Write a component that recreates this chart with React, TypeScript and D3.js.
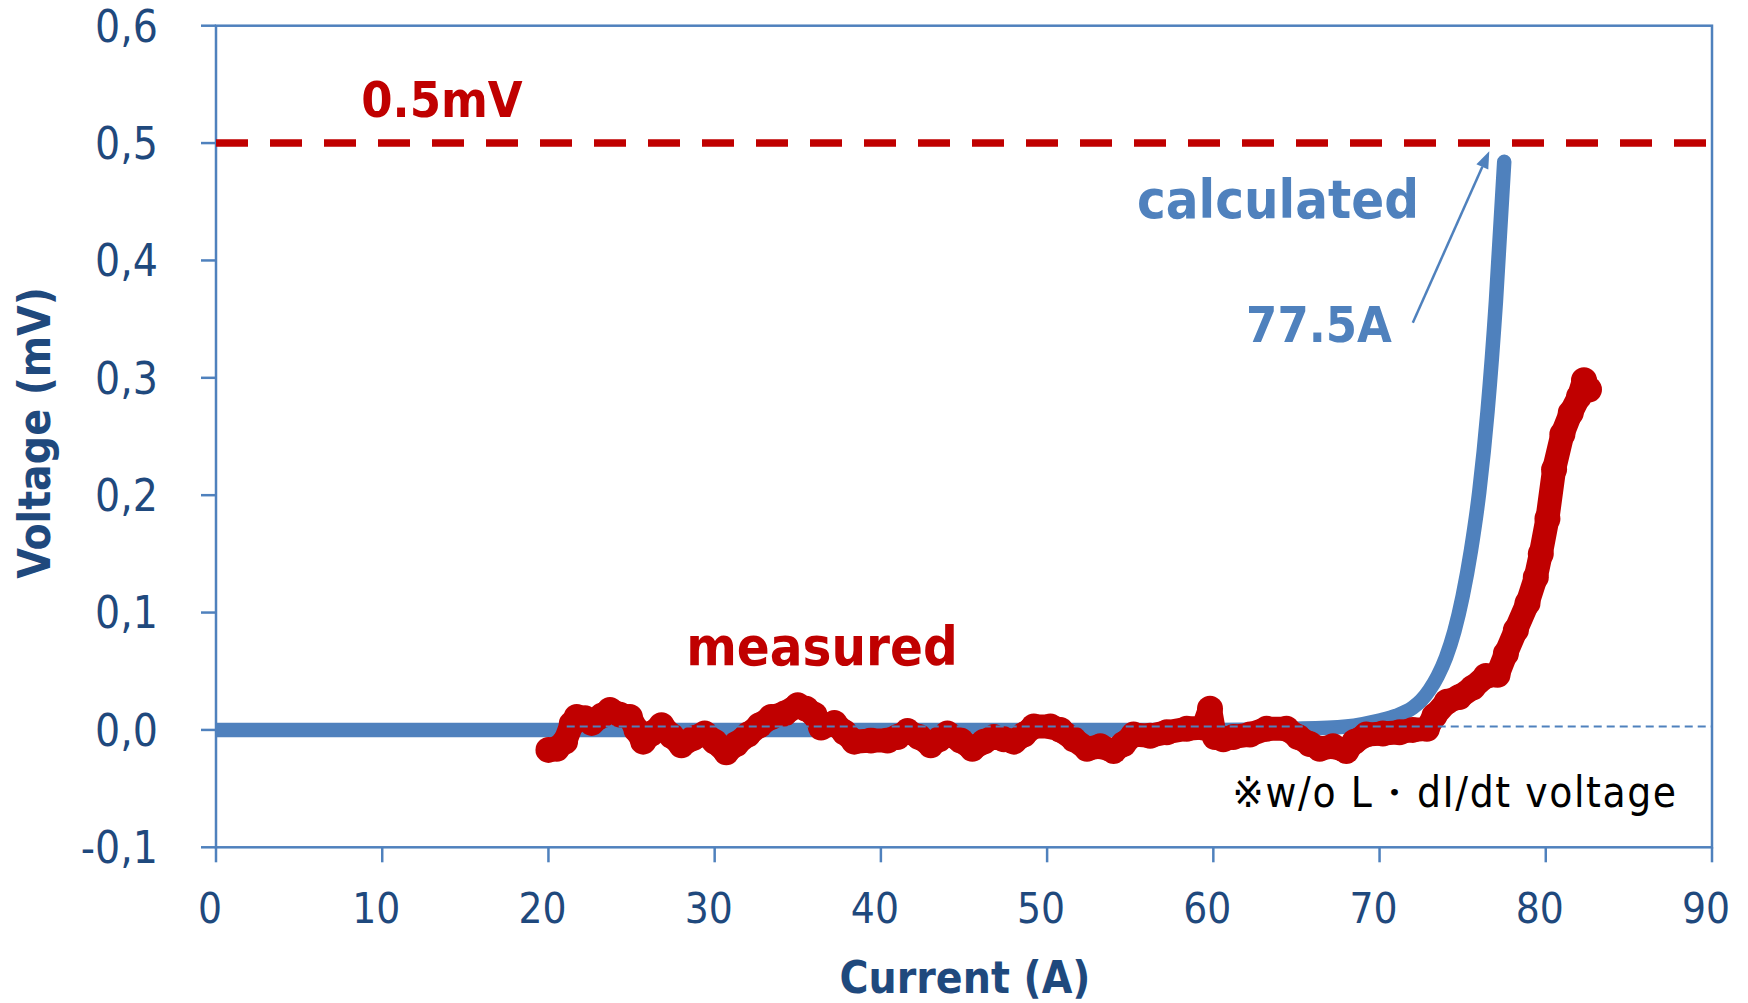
import React from "react";
import * as d3 from "d3";

// Axis ticks
const xTicks = [0, 10, 20, 30, 40, 50, 60, 70, 80, 90];
const yTicks = [-0.1, 0, 0.1, 0.2, 0.3, 0.4, 0.5, 0.6];
const yTickLabels = ["-0,1", "0,0", "0,1", "0,2", "0,3", "0,4", "0,5", "0,6"];

// Calculated V-I curve (A, mV)
const calcCurrent = [0, 10, 20, 30, 40, 50, 60, 65, 68, 69, 70, 71, 72, 72.5, 73, 73.5, 74, 74.5, 75, 75.5, 76, 76.5, 77, 77.5];
const calcVoltage = [0, 0, 0, 0, 0, 0, 0, 0.001, 0.003, 0.005, 0.008, 0.012, 0.019, 0.025, 0.034, 0.046, 0.062, 0.084, 0.114, 0.153, 0.203, 0.272, 0.365, 0.484];

// Measured V-I curve (A, mV)
const measCurrent = [
  20.0, 20.5, 21.0, 21.4, 21.7, 22.2, 22.6, 23.2, 23.7, 24.3,
  24.9, 25.3, 25.7, 26.2, 26.8, 27.4, 28.0, 28.7, 29.4, 30.0,
  30.7, 31.3, 32.0, 32.7, 33.4, 34.2, 35.0, 35.5, 36.0, 36.4,
  37.2, 37.8, 38.4, 39.4, 40.4, 41.0, 41.6, 42.3, 43.0, 43.5,
  44.0, 44.8, 45.5, 46.2, 46.8, 47.4, 48.0, 48.6, 49.2, 50.2,
  50.8, 51.6, 52.4, 53.2, 54.0, 54.6, 55.2, 56.2, 57.2, 58.4,
  59.4, 59.8, 60.1, 60.6, 61.2, 62.2, 63.2, 64.4, 65.1, 65.8,
  66.4, 67.2, 68.0, 68.5, 69.2, 70.2, 71.2, 72.0, 72.85, 73.3,
  74.05, 74.8, 75.6, 76.4, 77.1, 77.6, 78.2, 78.9, 79.4, 79.7,
  80.1, 80.5, 81.0, 81.5, 82.0, 82.3, 82.6,
];
const measVoltage = [
  -0.017, -0.016, -0.010, 0.005, 0.011, 0.010, 0.006, 0.012, 0.017, 0.013,
  0.011, 0.000, -0.010, -0.003, 0.004, -0.005, -0.013, -0.007, -0.003, -0.010,
  -0.019, -0.012, -0.004, 0.004, 0.011, 0.014, 0.021, 0.018, 0.013, 0.002,
  0.006, -0.002, -0.010, -0.009, -0.009, -0.006, -0.001, -0.006, -0.013, -0.008,
  -0.003, -0.009, -0.016, -0.010, -0.006, -0.008, -0.010, -0.004, 0.003, 0.003,
  0.000, -0.008, -0.016, -0.014, -0.018, -0.012, -0.004, -0.005, -0.002, 0.001,
  0.002, 0.018, -0.006, -0.008, -0.006, -0.004, 0.001, 0.001, -0.006, -0.012,
  -0.016, -0.014, -0.018, -0.010, -0.004, -0.003, -0.002, 0.000, 0.001, 0.012,
  0.024, 0.028, 0.036, 0.046, 0.047, 0.065, 0.085, 0.108, 0.130, 0.150,
  0.180, 0.222, 0.252, 0.270, 0.284, 0.298, 0.290,
];

// Zero baseline of the measurement
const baselineCurrent = [21.1, 90];
const baselineVoltage = [0.003, 0.003];

// Criterion and annotation values
const criterionVoltage = 0.5;
const criterionLabel = "0.5mV";
const criticalLabel = "77.5A";
const arrowFrom = [72.0, 0.347];
const arrowTo = [76.6, 0.493];

const W = 1748;
const H = 1003;
const M = { left: 216, right: 1712, top: 25.7, bottom: 847.3 };

const AXIS = "#4F81BD";
const TEXT = "#1F497D";
const RED = "#C00000";
const FONT = "'DejaVu Sans Condensed', 'DejaVu Sans', sans-serif";

export default function App() {
  const x = d3.scaleLinear().domain([0, 90]).range([M.left, M.right]);
  const y = d3.scaleLinear().domain([-0.1, 0.6]).range([M.bottom, M.top]);

  const calcPts: [number, number][] = calcCurrent.map((c, i) => [c, calcVoltage[i]]);
  const measPts: [number, number][] = measCurrent.map((c, i) => [c, measVoltage[i]]);
  const basePts: [number, number][] = baselineCurrent.map((c, i) => [c, baselineVoltage[i]]);

  const smooth = d3
    .line<[number, number]>()
    .x((d) => x(d[0]))
    .y((d) => y(d[1]))
    .curve(d3.curveMonotoneX);
  const straight = d3
    .line<[number, number]>()
    .x((d) => x(d[0]))
    .y((d) => y(d[1]));

  // arrow geometry
  const ax1 = x(arrowFrom[0]);
  const ay1 = y(arrowFrom[1]);
  const ax2 = x(arrowTo[0]);
  const ay2 = y(arrowTo[1]);
  const ang = Math.atan2(ay2 - ay1, ax2 - ax1);
  const headLen = 17;
  const headHalf = 6.5;
  const bx = ax2 - headLen * Math.cos(ang);
  const by = ay2 - headLen * Math.sin(ang);
  const px = -Math.sin(ang) * headHalf;
  const py = Math.cos(ang) * headHalf;
  const head = `M${ax2},${ay2}L${bx + px},${by + py}L${bx - px},${by - py}Z`;

  return (
    <svg
      width={W}
      height={H}
      viewBox={`0 0 ${W} ${H}`}
      style={{ position: "absolute", left: 0, top: 0, background: "#fff" }}
      fontFamily={FONT}
    >
      <defs>
        <clipPath id="plotClip">
          <rect x={M.left} y={M.top - 20} width={M.right - M.left} height={M.bottom - M.top + 20} />
        </clipPath>
      </defs>
      <rect x={0} y={0} width={W} height={H} fill="#fff" />

      {/* frame */}
      <rect
        x={M.left}
        y={M.top}
        width={M.right - M.left}
        height={M.bottom - M.top}
        fill="none"
        stroke={AXIS}
        strokeWidth={2.5}
      />

      {/* y ticks */}
      {yTicks.map((t, i) => (
        <g key={`y${i}`}>
          <line x1={M.left - 15} x2={M.left} y1={y(t)} y2={y(t)} stroke={AXIS} strokeWidth={2.5} />
          <text x={158} y={y(t)} dy="0.36em" textAnchor="end" fontSize={44} fill={TEXT}>
            {yTickLabels[i]}
          </text>
        </g>
      ))}

      {/* x ticks */}
      {xTicks.map((t, i) => (
        <g key={`x${i}`}>
          <line x1={x(t)} x2={x(t)} y1={M.bottom} y2={M.bottom + 15} stroke={AXIS} strokeWidth={2.5} />
          <text x={x(t) - 6} y={923} textAnchor="middle" fontSize={42} fill={TEXT}>
            {t}
          </text>
        </g>
      ))}

      {/* axis titles */}
      <text x={965} y={993} textAnchor="middle" fontSize={44} fontWeight="bold" fill={TEXT}>
        Current (A)
      </text>
      <text
        transform={`translate(50,433) rotate(-90)`}
        textAnchor="middle"
        fontSize={44}
        fontWeight="bold"
        fill={TEXT}
      >
        Voltage (mV)
      </text>

      {/* 0.5 mV criterion */}
      <line
        x1={M.left}
        x2={M.right}
        y1={y(criterionVoltage)}
        y2={y(criterionVoltage)}
        stroke={RED}
        strokeWidth={7.5}
        strokeDasharray="32 22"
      />

      {/* calculated curve */}
      <path
        d={smooth(calcPts) ?? ""}
        fill="none"
        stroke={AXIS}
        strokeWidth={14.5}
        strokeLinecap="round"
        strokeLinejoin="round"
        clipPath="url(#plotClip)"
      />

      {/* measured curve */}
      <path
        d={straight(measPts) ?? ""}
        fill="none"
        stroke={RED}
        strokeWidth={24}
        strokeLinecap="round"
        strokeLinejoin="round"
      />
      {measPts.map((d, i) => (
        <circle key={`m${i}`} cx={x(d[0])} cy={y(d[1])} r={13} fill={RED} />
      ))}

      {/* zero baseline */}
      <path
        d={straight(basePts) ?? ""}
        fill="none"
        stroke={AXIS}
        strokeWidth={2}
        strokeDasharray="8 5"
      />

      {/* annotations */}
      <text x={442} y={117} textAnchor="middle" fontSize={50} fontWeight="bold" fill={RED}>
        {criterionLabel}
      </text>
      <text x={1278} y={218} textAnchor="middle" fontSize={54} fontWeight="bold" fill={AXIS}>
        calculated
      </text>
      <text x={1319} y={342} textAnchor="middle" fontSize={50} fontWeight="bold" fill={AXIS}>
        {criticalLabel}
      </text>
      <text x={822} y={665} textAnchor="middle" fontSize={54} fontWeight="bold" fill={RED}>
        measured
      </text>
      <text x={1455} y={807} textAnchor="middle" fontSize={42} letterSpacing={1.6} fill="#000">
        ※w/o L・dI/dt voltage
      </text>

      <line x1={ax1} y1={ay1} x2={bx} y2={by} stroke={AXIS} strokeWidth={2.5} />
      <path d={head} fill={AXIS} />
    </svg>
  );
}
